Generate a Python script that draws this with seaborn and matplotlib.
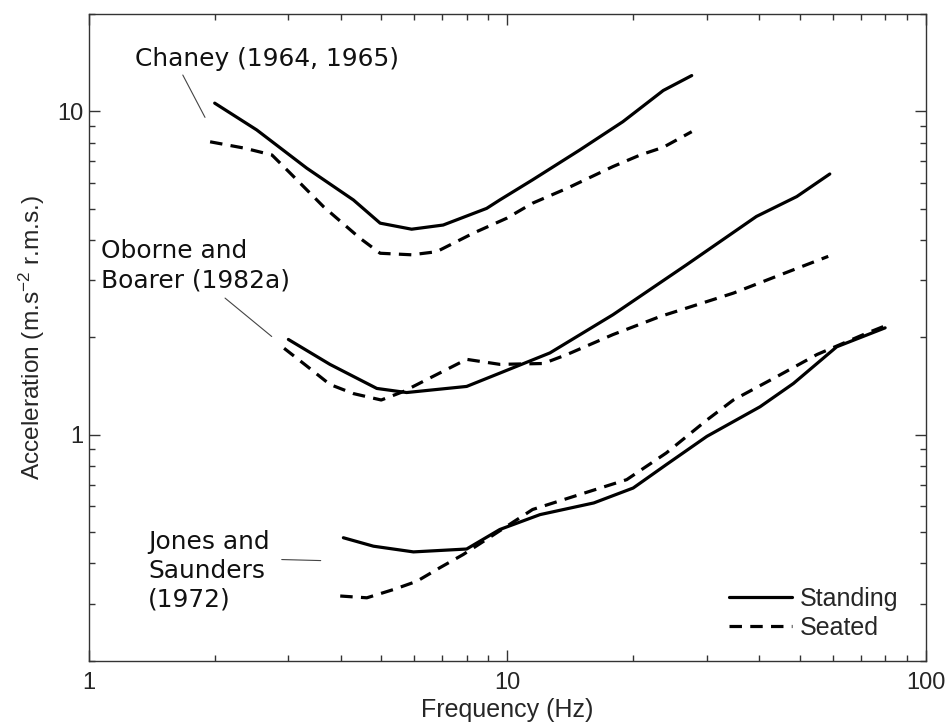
import numpy as np
import pandas as pd
import matplotlib
matplotlib.use("Agg")
import matplotlib.pyplot as plt
import seaborn as sns
from matplotlib.ticker import LogLocator, FixedLocator, NullFormatter

# ---- data ----
chaney_stand_f = [2.0, 2.52, 3.32, 4.29, 4.97, 5.91, 7.03, 8.93, 9.6, 11.5, 14.9, 18.9, 23.6, 27.6]
chaney_stand_a = [10.6, 8.76, 6.67, 5.32, 4.51, 4.32, 4.45, 5.01, 5.32, 6.14, 7.59, 9.29, 11.6, 12.9]
chaney_seat_f = [1.95, 2.36, 2.74, 3.03, 3.64, 4.45, 4.97, 5.91, 6.78, 8.3, 9.97, 11.5, 13.9, 17.9, 20.8, 23.6, 27.6]
chaney_seat_a = [8.05, 7.69, 7.33, 6.44, 5.07, 4.05, 3.64, 3.60, 3.68, 4.20, 4.67, 5.2, 5.78, 6.75, 7.33, 7.74, 8.65]

oborne_stand_f = [3.0, 3.77, 4.88, 5.75, 8.0, 9.6, 12.65, 17.9, 26.8, 39.4, 49.2, 59.0]
oborne_stand_a = [1.97, 1.65, 1.39, 1.35, 1.41, 1.55, 1.79, 2.35, 3.35, 4.73, 5.45, 6.40]
oborne_seat_f = [2.93, 3.32, 3.77, 4.29, 5.0, 5.65, 6.42, 8.0, 9.6, 12.2, 13.9, 17.9, 23.2, 34.7, 44.9, 58.5]
oborne_seat_a = [1.85, 1.63, 1.43, 1.34, 1.28, 1.36, 1.48, 1.71, 1.65, 1.66, 1.77, 2.04, 2.32, 2.74, 3.12, 3.56]

jones_stand_f = [4.06, 4.79, 5.97, 8.0, 9.6, 11.98, 16.1, 20.0, 24.0, 30.0, 40.2, 48.3, 61.3, 80.0]
jones_stand_a = [0.480, 0.452, 0.434, 0.443, 0.509, 0.566, 0.615, 0.684, 0.808, 0.988, 1.22, 1.44, 1.87, 2.14]
jones_seat_f = [3.99, 4.62, 5.35, 6.08, 6.91, 7.85, 11.5, 14.9, 19.3, 24.0, 30.0, 34.7, 44.0, 55.0, 72.3, 80.0]
jones_seat_a = [0.317, 0.313, 0.332, 0.352, 0.388, 0.426, 0.587, 0.653, 0.726, 0.878, 1.11, 1.28, 1.51, 1.77, 2.06, 2.17]

postures = ["Standing", "Seated"]
study_labels = ["Chaney (1964, 1965)", "Oborne and\nBoarer (1982a)", "Jones and\nSaunders\n(1972)"]

series = [
    ("Chaney", "Standing", chaney_stand_f, chaney_stand_a),
    ("Chaney", "Seated", chaney_seat_f, chaney_seat_a),
    ("Oborne", "Standing", oborne_stand_f, oborne_stand_a),
    ("Oborne", "Seated", oborne_seat_f, oborne_seat_a),
    ("Jones", "Standing", jones_stand_f, jones_stand_a),
    ("Jones", "Seated", jones_seat_f, jones_seat_a),
]
rows = []
for study, post, f, a in series:
    for fi, ai in zip(f, a):
        rows.append(dict(study=study, posture=post, freq=fi, accel=ai))
df = pd.DataFrame(rows)

# ---- styling ----
sns.set_theme(style="ticks")
plt.rcParams["font.family"] = ["Liberation Sans", "DejaVu Sans"]
plt.rcParams["mathtext.default"] = "regular"

fig = plt.figure(figsize=(9.5, 7.25), dpi=100)
ax = fig.add_axes([0.0934, 0.0887, 0.881, 0.892])

sns.lineplot(data=df, x="freq", y="accel", style="posture", units="study",
             estimator=None, sort=False, color="black", linewidth=2.3,
             style_order=postures,
             dashes={"Standing": "", "Seated": (3.9, 2.6)}, ax=ax)

ax.set_xscale("log")
ax.set_yscale("log")
ax.set_xlim(1, 100)
ax.set_ylim(0.2, 20)

ax.xaxis.set_major_locator(FixedLocator([1, 10, 100]))
ax.yaxis.set_major_locator(FixedLocator([1, 10]))
ax.set_xticklabels(["1", "10", "100"])
ax.set_yticklabels(["1", "10"])
ax.xaxis.set_minor_locator(LogLocator(base=10, subs=np.arange(2, 10)))
ax.yaxis.set_minor_locator(LogLocator(base=10, subs=np.arange(2, 10)))
ax.xaxis.set_minor_formatter(NullFormatter())
ax.yaxis.set_minor_formatter(NullFormatter())

ax.tick_params(which="both", direction="in", top=True, right=True, color="#333333",
               labelsize=17, width=1.0)
ax.tick_params(which="major", length=8)
ax.tick_params(which="minor", length=4.5)
ax.tick_params(axis="x", which="major", pad=8)
ax.tick_params(axis="y", which="major", pad=4)
for s in ax.spines.values():
    s.set_color("#333333")
    s.set_linewidth(1.0)
    s.set_visible(True)

ax.set_xlabel("Frequency (Hz)", fontsize=18, labelpad=3)
ax.set_ylabel("Acceleration (m.s$^{-2}$ r.m.s.)", fontsize=17.6, labelpad=7)

# legend
handles, labels = ax.get_legend_handles_labels()
hl = [(h, l) for h, l in zip(handles, labels) if l in postures]
leg = ax.legend([h for h, _ in hl], [l for _, l in hl], loc="lower right",
                frameon=False, fontsize=18, handlelength=2.5, handletextpad=0.32,
                labelspacing=0.2, borderaxespad=0, bbox_to_anchor=(0.979, 0.0165))
for line in leg.get_lines():
    line.set_linewidth(2.3)

# study annotations (text + thin leader lines)
ann_font = dict(family="DejaVu Sans", fontsize=17.9, color="#111111")
lead = dict(arrowstyle="-", color="#444444", lw=0.8, shrinkA=0, shrinkB=0)
ax.text(1.29, 14.5, study_labels[0], ha="left", va="center", **ann_font)
ax.annotate("", xy=(1.896, 9.58), xytext=(1.678, 12.95), arrowprops=lead)
ax.text(1.068, 3.33, study_labels[1], ha="left", va="center", linespacing=1.27, **ann_font)
ax.annotate("", xy=(2.737, 2.012), xytext=(2.117, 2.645), arrowprops=lead)
ax.text(1.386, 0.379, study_labels[2], ha="left", va="center", linespacing=1.24, **ann_font)
ax.annotate("", xy=(3.584, 0.408), xytext=(2.892, 0.411), arrowprops=lead)

fig.savefig("out.png", dpi=100)
